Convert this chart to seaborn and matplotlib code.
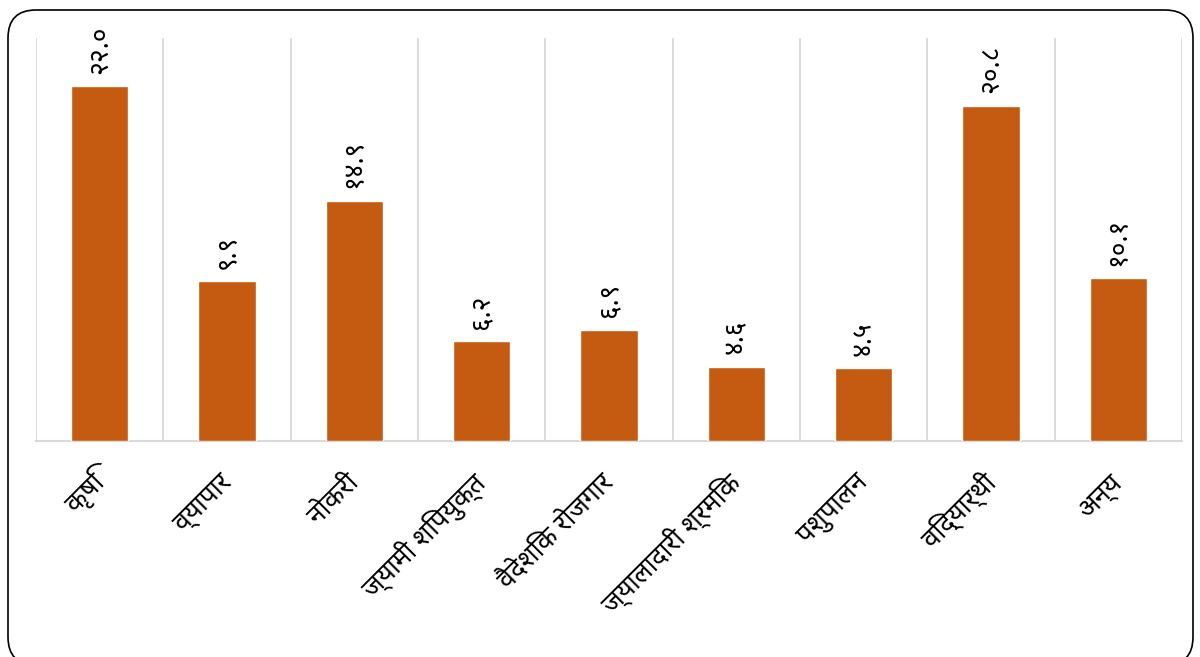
import matplotlib
matplotlib.use("Agg")
import matplotlib.pyplot as plt
import seaborn as sns
import pandas as pd
from matplotlib import font_manager
from matplotlib.ft2font import FT2Font
from matplotlib.patches import FancyBboxPatch
from matplotlib.transforms import IdentityTransform
from matplotlib.ticker import FixedLocator

categories = ["कृषि", "व्यापार", "नोकरी", "ज्यामी शिपयुक्त", "वैदेशिक रोजगार",
              "ज्यालादारी श्रमिक", "पशुपालन", "विद्यार्थी", "अन्य"]
values = [22.0, 9.9, 14.9, 6.2, 6.9, 4.6, 4.5, 20.8, 10.1]
value_labels = ["२२.०", "९.९", "१४.९", "६.२", "६.९", "४.६", "४.५", "२०.८", "१०.१"]

# find a regular-weight font that covers Devanagari
cands = []
for f in font_manager.fontManager.ttflist:
    try:
        cm = FT2Font(f.fname).get_charmap()
    except Exception:
        continue
    if 0x0915 in cm and 0x0943 in cm and 0x0966 in cm:
        cands.append(f)

def score(f):
    s = 0
    if f.style != "normal":
        s += 100
    w = f.weight if isinstance(f.weight, int) else 400
    s += abs(w - 400) / 10
    pref = ["Noto Sans Devanagari", "Mangal", "Noto Sans", "Lohit Devanagari", "FreeSans"]
    s += pref.index(f.name) if f.name in pref else 10
    return s

deva = None
if cands:
    deva = min(cands, key=score).name

sns.set_style("white")
fams = ([deva] if deva else []) + ["DejaVu Sans"]
plt.rcParams["font.family"] = fams

W, H = 1200, 657
fig = plt.figure(figsize=(W / 100, H / 100), dpi=100)
ax = fig.add_axes([36 / W, (H - 441) / H, (1182 - 36) / W, (441 - 38) / H])

df = pd.DataFrame({"cat": categories, "val": values})
sns.barplot(data=df, x="cat", y="val", color="#C55A11", width=0.45,
            saturation=1, ax=ax, zorder=3)

ax.set_xlim(-0.5, len(categories) - 0.5)
ax.set_ylim(0, 25)
ax.set_xlabel("")
ax.set_ylabel("")
ax.set_yticks([])

ax.xaxis.set_minor_locator(FixedLocator([i - 0.5 for i in range(len(categories) + 1)]))
ax.grid(which="minor", axis="x", color="#d9d9d9", linewidth=1.3, zorder=0)
ax.tick_params(axis="x", which="both", length=0)
ax.tick_params(axis="x", which="major", pad=27)

for s in ["top", "right", "left"]:
    ax.spines[s].set_visible(False)
ax.spines["bottom"].set_color("#d9d9d9")
ax.spines["bottom"].set_linewidth(1.5)

for lab in ax.get_xticklabels():
    lab.set_rotation(45)
    lab.set_ha("right")
    lab.set_va("center")
    lab.set_rotation_mode("anchor")
    lab.set_fontsize(19)
    lab.set_color("black")

ax.bar_label(ax.containers[0], labels=value_labels, rotation=90, padding=9,
             fontsize=19, color="black")

border = FancyBboxPatch((8, -8), 1185, 655, boxstyle="round,pad=0,rounding_size=28",
                        transform=IdentityTransform(), fill=False, edgecolor="black",
                        linewidth=1.2, clip_on=False)
fig.patches.append(border)

fig.savefig("out.png", dpi=100)
